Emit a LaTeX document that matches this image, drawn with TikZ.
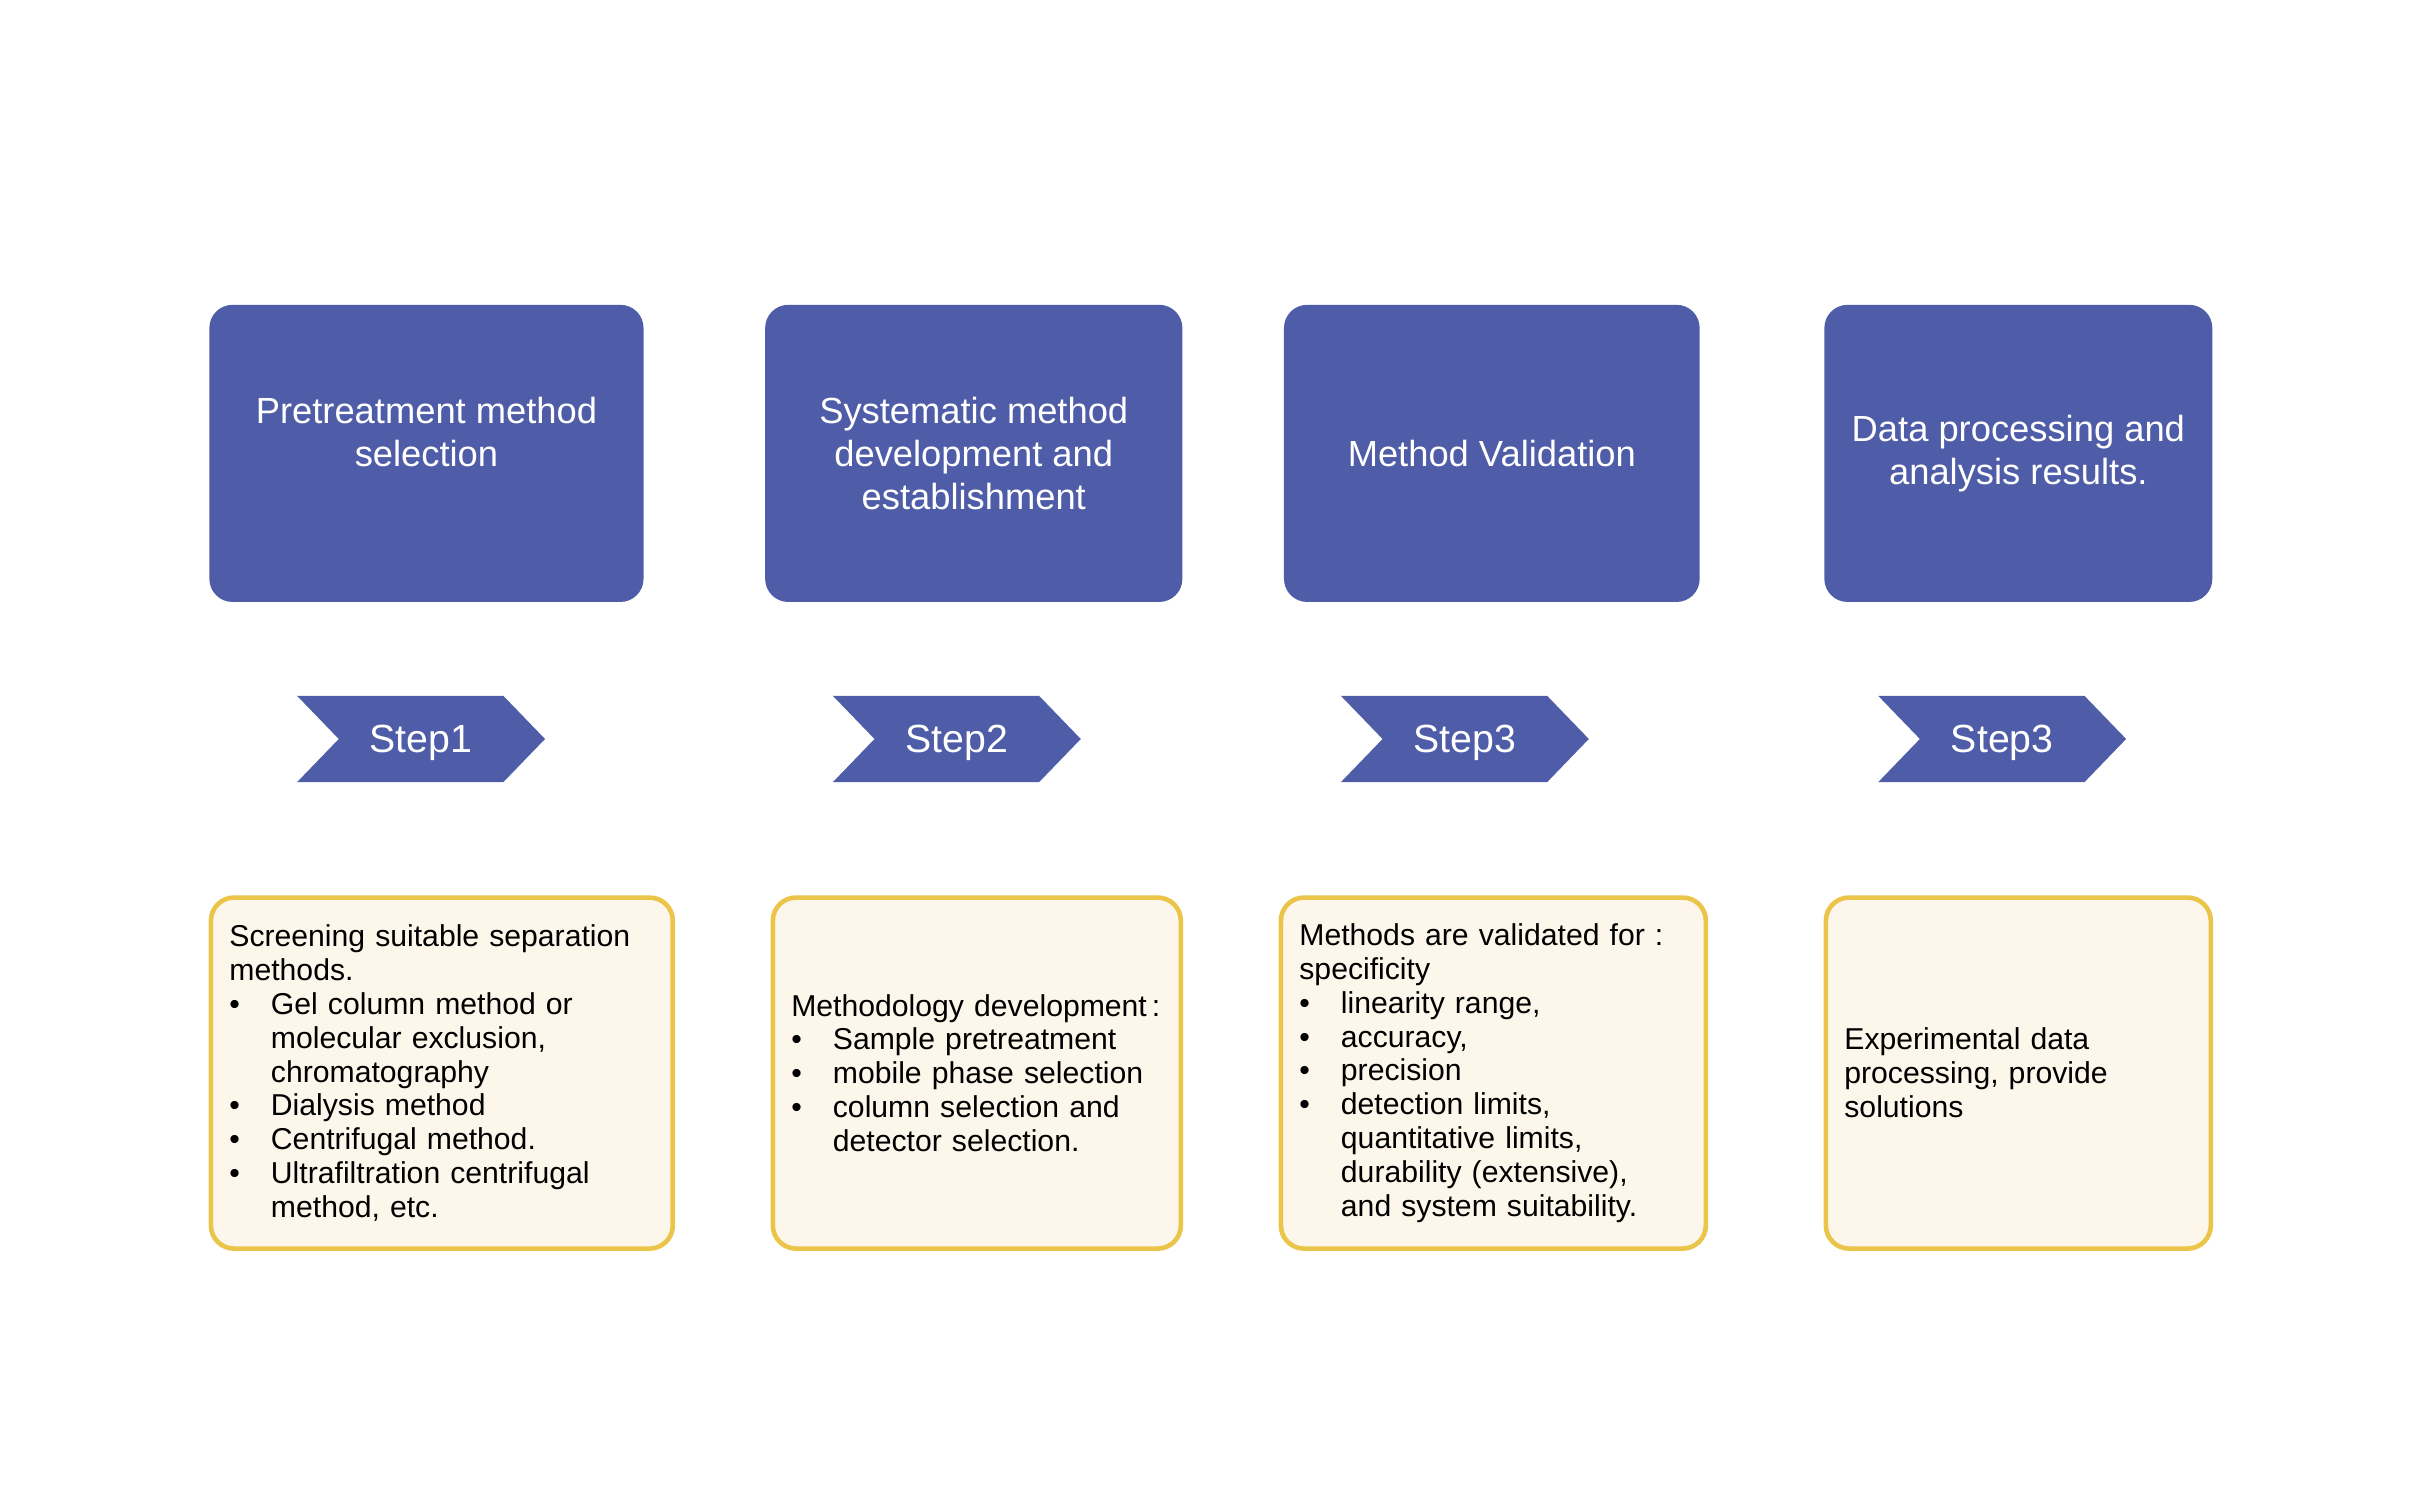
\documentclass[tikz,border=0pt]{standalone}
\usepackage{fontspec}
\setmainfont{Liberation Sans}
\usetikzlibrary{positioning,shapes.symbols}

\definecolor{stepblue}{RGB}{79,93,168}
\definecolor{notegold}{RGB}{234,197,74}
\definecolor{notecream}{RGB}{253,246,234}

\newcommand{\bitem}[1]{\makebox[27pt][l]{\textbullet}#1}
\newcommand{\bcont}[1]{\hspace*{27pt}#1}

\begin{document}
\begin{tikzpicture}[x=1pt, y=-1pt]
      \tikzstyle{phase} = [rectangle, fill=stepblue, rounded corners=15pt, text=white, align=center, inner sep=0pt, minimum height=193pt, font=\fontsize{23.6}{28}\selectfont]
      \tikzstyle{stepbox} = [signal, signal to=east, signal from=west, signal pointer angle=92, fill=stepblue, text=white, inner sep=0pt, text depth=0pt, minimum width=161pt, minimum height=56pt, font=\fontsize{25.5}{30}\selectfont]
      \tikzstyle{note} = [rectangle, draw=notegold, fill=notecream, line width=3pt, rounded corners=15pt, align=left, inner xsep=12pt, minimum height=228pt, font=\fontsize{19.6}{22}\selectfont]
      \useasboundingbox (0, 0) rectangle (1568, 974.3);

      % top row
      \node [phase, minimum width=282pt] (pre) at (277, 294.5) {Pretreatment method\\ selection\\ \mbox{}};
      \node [phase, minimum width=271pt] (dev) at (632.5, 294.5) {Systematic method\\ development and\\ establishment};
      \node [phase, minimum width=270pt] (val) at (969, 294.5) {Method Validation};
      \node [phase, minimum width=252pt] (ana) at (1311, 294.5) {Data processing and\\ analysis results.};

      % steps
      \foreach \n/\x/\t in {1/273.5/Step1, 2/621.5/Step2, 3/951.5/Step3, 4/1300.5/Step3} {
        \node [stepbox] (step\n) at (\x, 480) {\t};
      }

      % bottom row
      \node [note, minimum width=300pt, text width=276pt] (prenote) at (287, 697) {Screening suitable separation\\ methods.\\
        \bitem{Gel column method or}\\ \bcont{molecular exclusion,}\\ \bcont{chromatography}\\
        \bitem{Dialysis method}\\ \bitem{Centrifugal method.}\\
        \bitem{Ultrafiltration centrifugal}\\ \bcont{method, etc.}};
      \node [note, minimum width=265pt, text width=241pt] (devnote) at (634.5, 697) {Methodology development\,:\\
        \bitem{Sample pretreatment}\\ \bitem{mobile phase selection}\\
        \bitem{column selection and}\\ \bcont{detector selection.}};
      \node [note, minimum width=276pt, text width=252pt] (valnote) at (970, 697) {Methods are validated for :\\ specificity\\
        \bitem{linearity range,}\\ \bitem{accuracy,}\\ \bitem{precision}\\
        \bitem{detection limits,}\\ \bcont{quantitative limits,}\\ \bcont{durability (extensive),}\\ \bcont{and system suitability.}};
      \node [note, minimum width=250pt, text width=226pt] (ananote) at (1311, 697) {Experimental data\\ processing, provide\\ solutions};
\end{tikzpicture}
\end{document}
